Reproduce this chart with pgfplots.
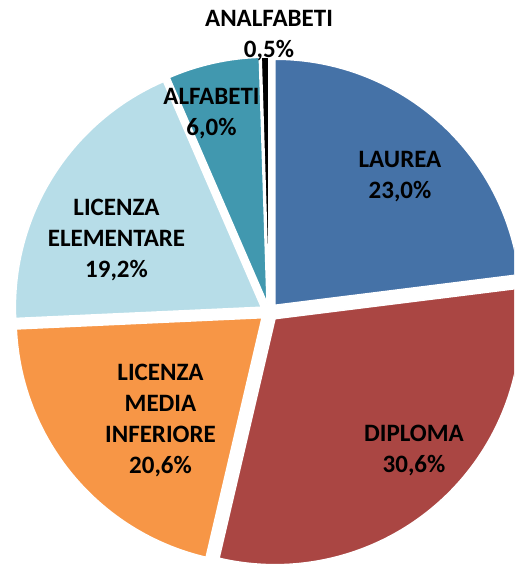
\documentclass[border=0pt]{standalone}
\usepackage{pgfplots}
\usepackage{pgfplotstable}
\pgfplotsset{compat=1.18}
\usepackage{fontspec}
\setmainfont{Carlito}

\definecolor{slice0}{HTML}{4572A7}
\definecolor{slice1}{HTML}{AA4643}
\definecolor{slice2}{HTML}{F79646}
\definecolor{slice3}{HTML}{B7DDE8}
\definecolor{slice4}{HTML}{4198AF}
\definecolor{slice5}{HTML}{000000}

\pgfplotstableread{
value
23.0
30.6
20.6
19.2
6.0
0.5
}\datatable

\def\Cx{269}
\def\Cy{252}
\def\Rad{246}
\def\Expl{9}

\begin{document}
\begin{tikzpicture}
% total
\def\total{0}
\pgfplotsforeachungrouped \i in {0,...,5}{%
  \pgfplotstablegetelem{\i}{value}\of\datatable
  \pgfmathsetmacro\total{\total+\pgfplotsretval}%
}
\pgfmathsetmacro\degper{360/\total}
\def\acc{0}
\pgfplotsforeachungrouped \i in {0,...,5}{%
  \pgfplotstablegetelem{\i}{value}\of\datatable
  \pgfmathsetmacro\a{90-\degper*\acc}%
  \pgfmathsetmacro\acc{\acc+\pgfplotsretval}%
  \pgfmathsetmacro\b{90-\degper*\acc}%
  \pgfmathsetmacro\m{(\a+\b)/2}%
  \pgfmathsetmacro\vx{\Cx+\Expl*cos(\m)}%
  \pgfmathsetmacro\vy{\Cy+\Expl*sin(\m)}%
  \expandafter\xdef\csname sA\i\endcsname{\a}%
  \expandafter\xdef\csname eA\i\endcsname{\b}%
  \expandafter\xdef\csname vX\i\endcsname{\vx}%
  \expandafter\xdef\csname vY\i\endcsname{\vy}%
}
\begin{axis}[
  x=1pt, y=1pt,
  xmin=0, xmax=514, ymin=0, ymax=564,
  scale only axis,
  hide axis,
  clip=true,
  clip mode=global,
]
\pgfplotsinvokeforeach{0,...,5}{
  \fill[fill=slice#1, draw=white, line width=1.5pt, line join=miter]
    (axis cs:\csname vX#1\endcsname,\csname vY#1\endcsname)
    -- ++(\csname sA#1\endcsname:\Rad pt)
    arc[start angle=\csname sA#1\endcsname, end angle=\csname eA#1\endcsname, radius=\Rad pt]
    -- cycle;
}
\begin{scope}[every node/.style={font=\bfseries\fontsize{25}{31}\selectfont, align=center, text=black, inner sep=0pt}]
\node at (axis cs:269,528.5) {ANALFABETI\\0,5\%};
\node at (axis cs:211.5,450.5) {ALFABETI\\6,0\%};
\node at (axis cs:400,387.5) {LAUREA\\23,0\%};
\node at (axis cs:116.5,324) {LICENZA\\ELEMENTARE\\19,2\%};
\node at (axis cs:160.5,144) {LICENZA\\MEDIA\\INFERIORE\\20,6\%};
\node at (axis cs:414,113.5) {DIPLOMA\\30,6\%};
\end{scope}
\end{axis}
\pgfresetboundingbox
\useasboundingbox (current axis.south west) rectangle (current axis.north east);
\end{tikzpicture}
\end{document}
